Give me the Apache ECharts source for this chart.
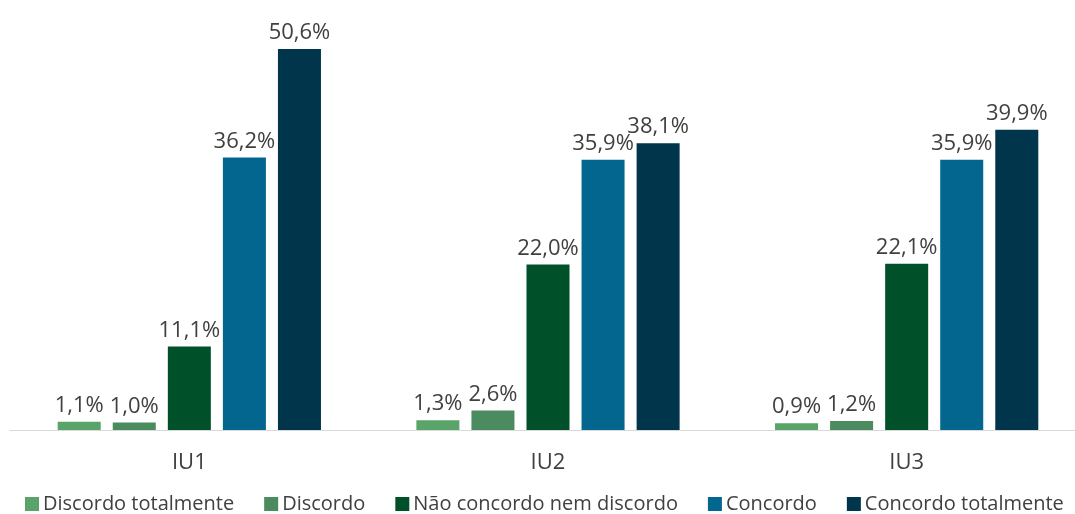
<!DOCTYPE html>
<html>
<head>
<meta charset="utf-8">
<script src="https://cdn.jsdelivr.net/npm/echarts@6/dist/echarts.min.js"></script>
<style>
html,body{margin:0;padding:0;background:#fff;}
#chart{width:1075px;height:514px;}
</style>
</head>
<body>
<div id="chart"></div>
<script>
var categories = ['IU1', 'IU2', 'IU3']
var seriesNames = ['Discordo totalmente', 'Discordo', 'Não concordo nem discordo', 'Concordo', 'Concordo totalmente']
var discordoTotalmente = [1.1, 1.3, 0.9]
var discordo = [1.0, 2.6, 1.2]
var neutro = [11.1, 22.0, 22.1]
var concordo = [36.2, 35.9, 35.9]
var concordoTotalmente = [50.6, 38.1, 39.9]
var colors = ['#5aa46a', '#4a8c5f', '#00512a', '#02668f', '#00354b']

var allData = [discordoTotalmente, discordo, neutro, concordo, concordoTotalmente]
var chart = echarts.init(document.getElementById('chart'))

var seriesArr = allData.map(function(d, i){
	return {
		name: seriesNames[i],
		type: 'bar',
		data: d,
		barGap: '28%',
		barCategoryGap: '26.6%',
		itemStyle: { color: colors[i] },
		label: {
			show: true,
			position: 'top',
			distance: 5,
			color: '#404040',
			fontSize: 22,
			fontFamily: 'Open Sans',
			formatter: function(p){ return p.value.toFixed(1).replace('.', ',') + '%' }
		}
	}
})

chart.setOption({
	animation: false,
	color: colors,
	grid: { left: 10, width: 1076, top: 16, bottom: 84, outerBoundsMode: 'none', containLabel: false },
	legend: {
		top: 494,
		left: 25,
		width: 1050,
		padding: 0,
		itemWidth: 14,
		itemHeight: 14,
		itemGap: 30,
		icon: 'rect',
		textStyle: { color: '#404040', fontSize: 20, fontFamily: 'Open Sans', padding: [0, 0, 0, -1] },
		data: seriesNames
	},
	xAxis: {
		type: 'category',
		data: categories,
		axisLine: { lineStyle: { color: '#d9d9d9', width: 1 } },
		axisTick: { show: false },
		axisLabel: { color: '#404040', fontSize: 22, fontFamily: 'Open Sans', margin: 22 }
	},
	yAxis: {
		type: 'value',
		min: 0,
		max: 55,
		show: false,
		splitLine: { show: false }
	},
	series: seriesArr
})
</script>
</body>
</html>
